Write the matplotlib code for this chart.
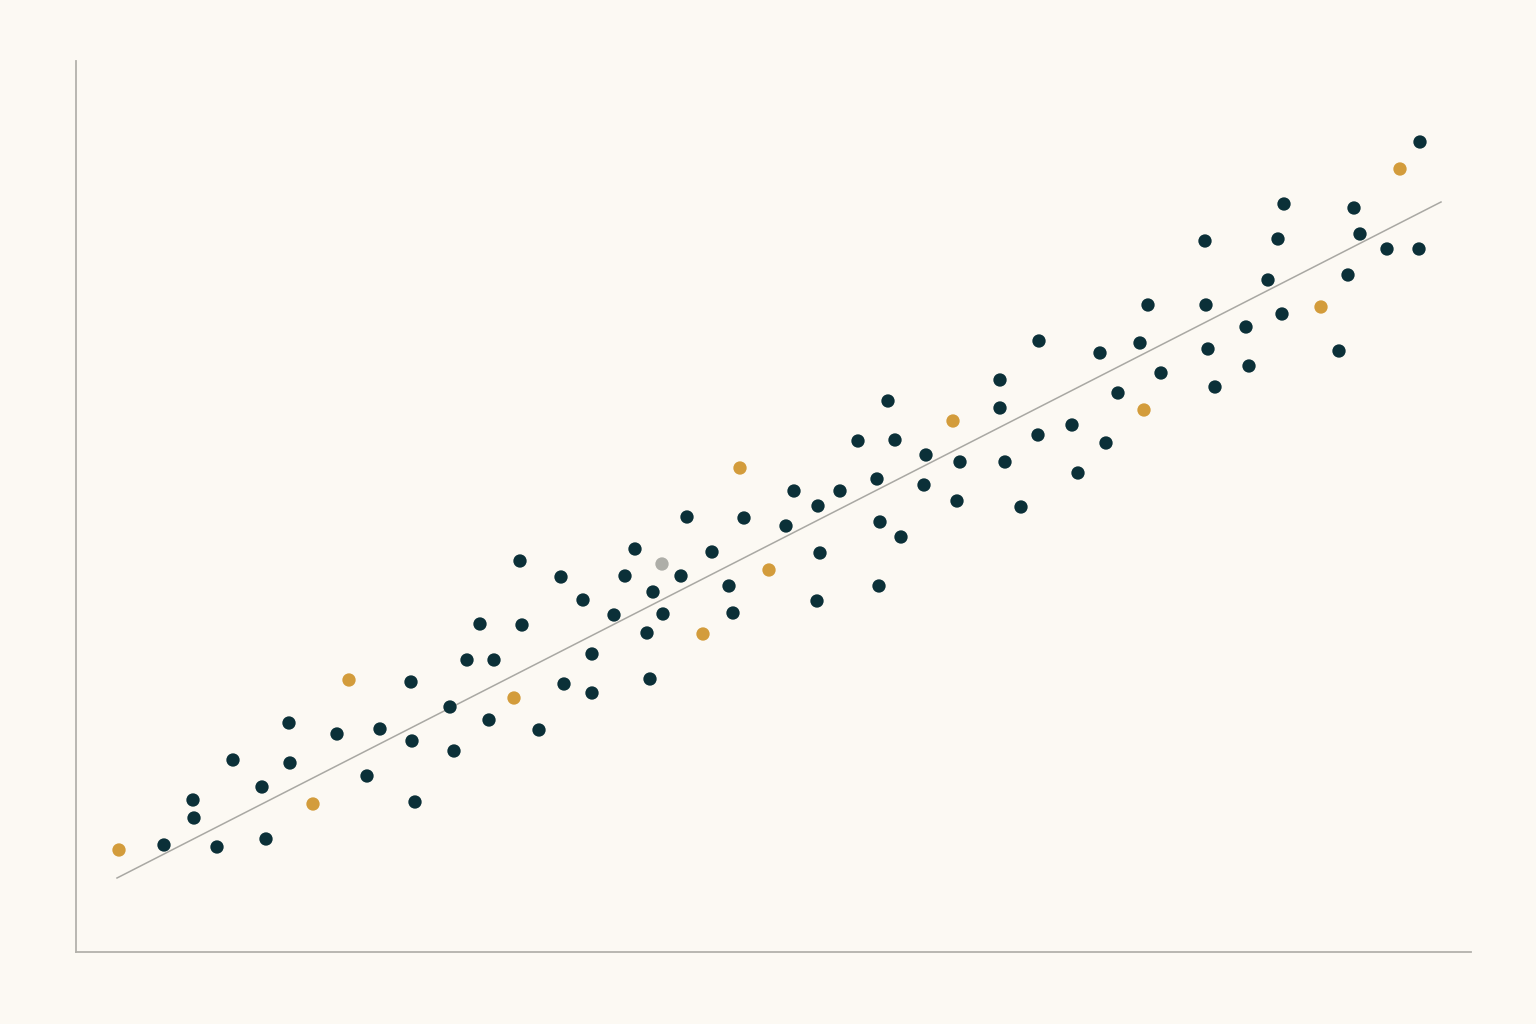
import numpy as np
import matplotlib
matplotlib.use("Agg")
import matplotlib.pyplot as plt

# Data (arbitrary units)
dark_x = [164, 193, 194, 217, 233, 262, 266, 289, 290, 337, 367, 380, 411, 412, 415, 450, 454, 467, 480, 489,
          494, 520, 522, 539, 561, 564, 583, 592, 592, 614, 625, 635, 647, 650, 653, 663, 681, 687, 712, 729,
          733, 744, 786, 794, 817, 818, 820, 840, 858, 877, 879, 880, 888, 895, 901, 924, 926, 957, 960, 1000,
          1000, 1005, 1021, 1038, 1039, 1072, 1078, 1100, 1106, 1118, 1140, 1148, 1161, 1205, 1206, 1208, 1215,
          1246, 1249, 1268, 1278, 1282, 1284, 1339, 1348, 1354, 1360, 1387, 1419, 1420]
dark_ypix = [845, 800, 818, 847, 760, 787, 839, 723, 763, 734, 776, 729, 682, 741, 802, 707, 751, 660, 624, 720,
             660, 561, 625, 730, 577, 684, 600, 654, 693, 615, 576, 549, 633, 679, 592, 614, 576, 517, 552, 586,
             613, 518, 526, 491, 601, 506, 553, 491, 441, 479, 586, 522, 401, 440, 537, 485, 455, 501, 462, 380,
             408, 462, 507, 435, 341, 425, 473, 353, 443, 393, 343, 305, 373, 241, 305, 349, 387,
             327, 366, 280, 239, 314, 204, 351, 275, 208, 234, 249, 249, 142]
gold_x = [119, 313, 349, 514, 703, 740, 769, 953, 1144, 1321, 1400]
gold_ypix = [850, 804, 680, 698, 634, 468, 570, 421, 410, 307, 169]
gray_x = [662]
gray_ypix = [564]

# trend line endpoints
trend_x = [117, 1441]
trend_ypix = [878, 202]

H = 1024
dark_y = [H - v for v in dark_ypix]
gold_y = [H - v for v in gold_ypix]
gray_y = [H - v for v in gray_ypix]
trend_y = [H - v for v in trend_ypix]

bg = "#fcf9f3"
fig = plt.figure(figsize=(15.36, 10.24), dpi=100, facecolor=bg)
ax = fig.add_axes([75.5/1536, 72.5/1024, 1395/1536, 891/1024], facecolor=bg)

ax.plot(trend_x, trend_y, color="#a9a8a3", lw=1.1, zorder=1)
ax.scatter(dark_x, dark_y, s=92, color="#0b3038", edgecolors="none", zorder=3)
ax.scatter(gold_x, gold_y, s=92, color="#d39c3b", edgecolors="none", zorder=3)
ax.scatter(gray_x, gray_y, s=92, color="#aeaea8", edgecolors="none", zorder=3)

ax.set_xlim(75.5, 1470.5)
ax.set_ylim(H - 951.5, H - 60.5)
for s in ["top", "right"]:
    ax.spines[s].set_visible(False)
for s in ["left", "bottom"]:
    ax.spines[s].set_color("#b3b1ab")
    ax.spines[s].set_linewidth(1.3)
ax.set_xticks([])
ax.set_yticks([])

fig.savefig("out.png", dpi=100, facecolor=bg)
